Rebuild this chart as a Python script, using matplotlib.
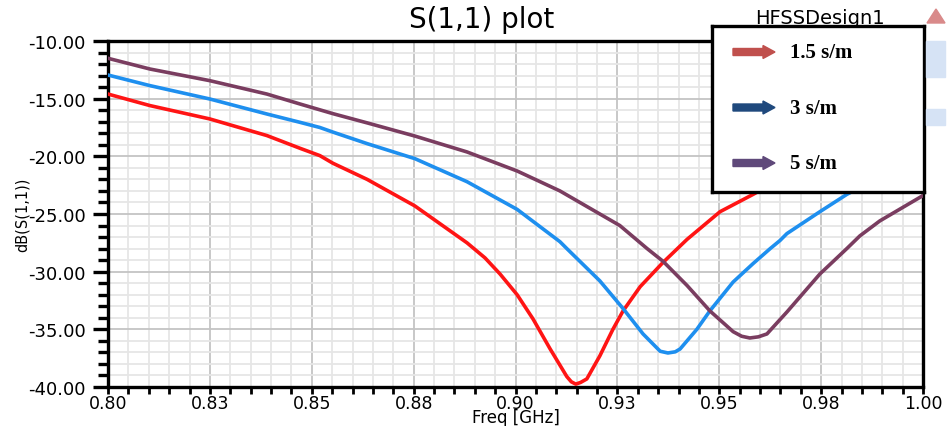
import numpy as np
from matplotlib import pyplot as plt
import matplotlib.patches as mpatches
from matplotlib.ticker import MultipleLocator, FixedLocator

# values (freq in GHz, dB)
red_f = [0.800, 0.8103, 0.8250, 0.8390, 0.8471, 0.8520, 0.8552, 0.8636, 0.8753, 0.8881, 0.8925, 0.8962,
         0.9004, 0.9043, 0.9085, 0.9126, 0.9137, 0.9148, 0.9160, 0.9175, 0.9207, 0.9239, 0.9264, 0.9306,
         0.9362, 0.9421, 0.9502, 0.9583, 0.967, 0.978, 0.989, 1.000]
red_db = [-14.6, -15.6, -16.76, -18.2, -19.3, -19.94, -20.6, -22.0, -24.3, -27.5, -28.8, -30.2,
          -32.0, -34.1, -36.7, -39.1, -39.55, -39.75, -39.6, -39.3, -37.3, -35.0, -33.4, -31.3,
          -29.2, -27.2, -24.8, -23.3, -21.6, -19.9, -18.6, -17.5]

blue_f = [0.800, 0.8103, 0.8250, 0.8390, 0.8471, 0.8520, 0.8552, 0.8636, 0.8753, 0.8881, 0.9004, 0.9109,
          0.9126, 0.9207, 0.9264, 0.9313, 0.9355, 0.9374, 0.9392, 0.9404, 0.9445, 0.9477, 0.9534, 0.9583,
          0.9625, 0.9649, 0.9666, 0.9747, 0.9813, 0.9894, 1.000]
blue_db = [-12.95, -13.87, -15.03, -16.33, -17.05, -17.5, -17.9, -18.9, -20.2, -22.2, -24.6, -27.4,
           -28.0, -30.8, -33.2, -35.4, -36.9, -37.05, -36.95, -36.7, -35.0, -33.4, -30.9, -29.3,
           -28.0, -27.3, -26.7, -24.8, -23.3, -21.8, -19.9]

purple_f = [0.800, 0.8103, 0.8250, 0.8390, 0.8471, 0.8552, 0.8636, 0.8753, 0.8881, 0.9004, 0.9109, 0.9207,
            0.9256, 0.9323, 0.9362, 0.9421, 0.9477, 0.9534, 0.9555, 0.9575, 0.9596, 0.9617, 0.9666, 0.9715,
            0.9747, 0.9813, 0.9845, 0.9894, 1.000]
purple_db = [-11.5, -12.43, -13.44, -14.6, -15.46, -16.3, -17.1, -18.24, -19.62, -21.27, -23.0, -25.0,
             -26.0, -28.0, -29.1, -31.2, -33.4, -35.2, -35.6, -35.75, -35.65, -35.4, -33.5, -31.5,
             -30.2, -28.0, -26.9, -25.6, -23.4]

x_ticks = [0.800, 0.825, 0.850, 0.875, 0.900, 0.925, 0.950, 0.975, 1.000]
x_labels = ['0.80', '0.83', '0.85', '0.88', '0.90', '0.93', '0.95', '0.98', '1.00']
y_ticks = [-40, -35, -30, -25, -20, -15, -10]
y_labels = ['-40.00', '-35.00', '-30.00', '-25.00', '-20.00', '-15.00', '-10.00']
legend_labels = ['1.5 s/m', '3 s/m', '5 s/m']
arrow_colors = ['#c0504d', '#1f497d', '#5f497a']

plt.rcParams['font.family'] = ['DejaVu Sans']
fig = plt.figure(figsize=(9.47, 4.27), dpi=100)
ax = fig.add_axes([108/947, 39/427, 815/947, 346/427])

ax.plot(red_f, red_db, color='#ff1414', lw=2.6, zorder=3, solid_joinstyle='round')
ax.plot(blue_f, blue_db, color='#1e8fef', lw=2.6, zorder=3, solid_joinstyle='round')
ax.plot(purple_f, purple_db, color='#7a3d60', lw=2.6, zorder=3, solid_joinstyle='round')

ax.set_xlim(0.8, 1.0)
ax.set_ylim(-40, -10)
ax.xaxis.set_major_locator(FixedLocator(x_ticks))
ax.set_xticklabels(x_labels)
ax.xaxis.set_minor_locator(MultipleLocator(0.005))
ax.yaxis.set_major_locator(FixedLocator(y_ticks))
ax.set_yticklabels(y_labels)
ax.yaxis.set_minor_locator(MultipleLocator(1))

ax.grid(which='major', color='#c4c4c4', lw=1.3, zorder=1)
ax.grid(which='minor', color='#e6e6e6', lw=1.3, zorder=0)
ax.set_axisbelow(True)
for s in ax.spines.values():
    s.set_linewidth(2.4)
ax.tick_params(axis='y', which='major', length=11, width=2.4, labelsize=13, pad=5)
ax.tick_params(axis='y', which='minor', length=7, width=2.4)
ax.tick_params(axis='x', which='major', length=5, width=2.0, labelsize=12.5, pad=0)
ax.tick_params(axis='x', which='minor', length=5, width=2.0)

ax.set_xlabel('Freq [GHz]', fontsize=12, va='center')
ax.xaxis.set_label_coords(0.5, -0.086)
ax.set_ylabel('dB(S(1,1))', fontsize=10.5, va='center')
ax.yaxis.set_label_coords(-(108-22)/815, 0.5)
fig.text(482/947, 1-20/427, 'S(1,1) plot', fontsize=20, ha='center', va='center')
fig.text(820/947, 1-19/427, 'HFSSDesign1', fontsize=14, ha='center', va='center')

# small toolbar icons at the right edge
fig.patches.append(mpatches.Polygon([[927/947, 1-24/427], [945/947, 1-24/427], [936/947, 1-10/427]],
                                    closed=True, transform=fig.transFigure, color='#d98a8a', zorder=1))
fig.patches.append(mpatches.Rectangle((926/947, 1-78/427), 19/947, 36/427, transform=fig.transFigure,
                                      color='#d6e3f5', zorder=1))
fig.patches.append(mpatches.Rectangle((926/947, 1-126/427), 19/947, 16/427, transform=fig.transFigure,
                                      color='#d6e3f5', zorder=1))

# legend box drawn by hand (arrows + bold serif text)
lg = fig.add_axes([712/947, 1-193/427, 212/947, 166/427])
lg.set_xlim(0, 212)
lg.set_ylim(166, 0)
lg.set_xticks([])
lg.set_yticks([])
for s in lg.spines.values():
    s.set_linewidth(2.4)
for i in range(3):
    yy = 26 + i*55.5
    lg.add_patch(mpatches.FancyArrow(21, yy, 42, 0, width=7, head_width=13, head_length=12,
                                     length_includes_head=True, color=arrow_colors[i]))
    lg.text(78, yy, legend_labels[i], fontsize=15, fontweight='bold', va='center', ha='left',
            family=['Liberation Serif', 'DejaVu Serif'])

plt.savefig('out.png', dpi=100)
